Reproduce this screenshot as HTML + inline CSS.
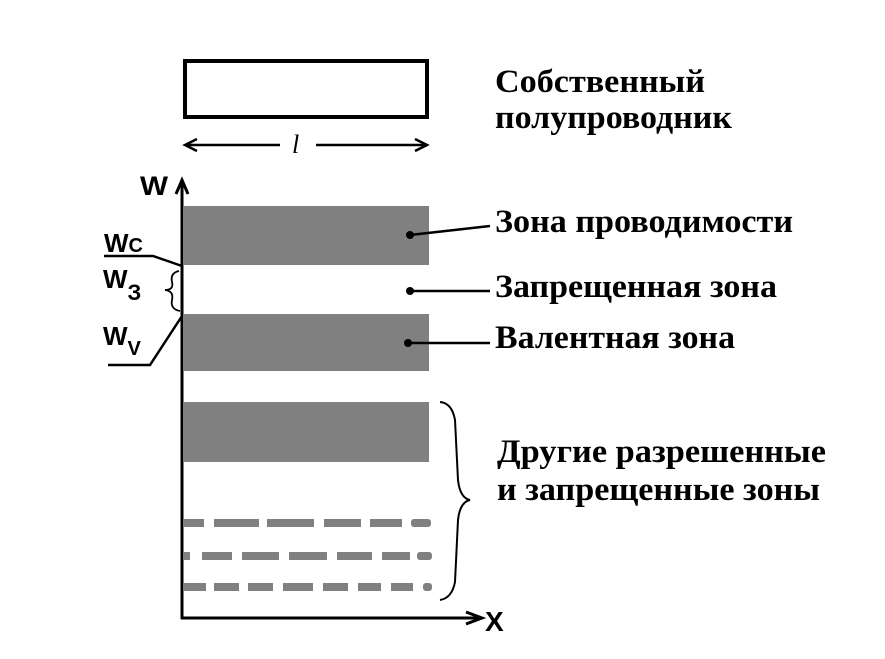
<!DOCTYPE html>
<html><head><meta charset="utf-8"><style>
body{margin:0;background:#fff;}
svg{display:block}
.s{font-family:"Liberation Serif",serif;font-weight:bold;font-size:33px;fill:#000}
.w{font-family:"Liberation Sans",sans-serif;font-weight:bold;fill:#000}
</style></head><body>
<svg width="885" height="659" viewBox="0 0 885 659" xmlns="http://www.w3.org/2000/svg">
<rect x="185" y="61" width="242" height="56" fill="none" stroke="#000" stroke-width="4"/>
<g stroke="#000" stroke-width="2.5" fill="none">
<line x1="185" y1="145" x2="280" y2="145"/><line x1="316" y1="145" x2="427" y2="145"/>
<polyline points="197,139 185,145 197,151"/><polyline points="415,139 427,145 415,151"/>
</g>
<text x="292" y="153" font-family="Liberation Serif,serif" font-style="italic" font-size="26">l</text>
<text class="s" x="495" y="92" textLength="210" lengthAdjust="spacingAndGlyphs">Собственный</text>
<text class="s" x="495" y="128" textLength="237" lengthAdjust="spacingAndGlyphs">полупроводник</text>
<rect x="184" y="206" width="245" height="59" fill="#808080"/>
<rect x="184" y="314" width="245" height="57" fill="#808080"/>
<rect x="184" y="402" width="245" height="60" fill="#808080"/>
<g fill="#808080">
<rect x="184" y="519" width="20" height="8"/><rect x="214" y="519" width="45" height="8"/><rect x="267" y="519" width="47" height="8"/><rect x="324" y="519" width="37" height="8"/><rect x="370" y="519" width="32" height="8"/><rect x="411" y="519" width="20" height="8" rx="3"/>
<rect x="184" y="552" width="6" height="8"/><rect x="202" y="552" width="30" height="8"/><rect x="242" y="552" width="37" height="8"/><rect x="289" y="552" width="38" height="8"/><rect x="337" y="552" width="35" height="8"/><rect x="382" y="552" width="28" height="8"/><rect x="417" y="552" width="15" height="8" rx="3"/>
<rect x="184" y="583" width="22" height="8"/><rect x="214" y="583" width="25" height="8"/><rect x="248" y="583" width="25" height="8"/><rect x="283" y="583" width="30" height="8"/><rect x="323" y="583" width="25" height="8"/><rect x="358" y="583" width="23" height="8"/><rect x="391" y="583" width="22" height="8"/><rect x="423" y="583" width="9" height="8" rx="3"/>
</g>
<g stroke="#000" stroke-width="3" fill="none">
<line x1="182" y1="180" x2="182" y2="619"/><line x1="181" y1="618" x2="480" y2="618"/>
<polyline points="176,194 182,180 188,194"/><polyline points="466,612 482,618 466,624"/>
</g>
<text class="w" x="140" y="195" font-size="27" textLength="28" lengthAdjust="spacingAndGlyphs">W</text>
<text class="w" x="485" y="631" font-size="28">X</text>
<g stroke="#000" stroke-width="2.5" fill="none">
<polyline points="104,256 153,256 182,266"/>
<polyline points="108,365 150,365 182,316"/>
<path d="M179,271 Q170,273 172,282 Q174,290 165,290 Q174,291 172,300 Q170,309 180,311" stroke-width="1.8"/>
<path d="M440,402 Q452,403 455,420 L458,480 Q460,498 470,500 Q460,502 458,520 L455,582 Q452,598 440,600" stroke-width="2"/>
<line x1="410" y1="235" x2="490" y2="226"/><line x1="410" y1="291" x2="490" y2="291"/><line x1="408" y1="343" x2="490" y2="343"/>
</g>
<circle cx="410" cy="235" r="4" fill="#000"/><circle cx="410" cy="291" r="4" fill="#000"/><circle cx="408" cy="343" r="4" fill="#000"/>
<text class="w" x="104" y="252" font-size="26">W<tspan font-size="20">C</tspan></text>
<text class="w" x="103" y="288" font-size="26">W<tspan font-size="22" dy="12">З</tspan></text>
<text class="w" x="103" y="345" font-size="26">W<tspan font-size="20" dy="10">V</tspan></text>
<text class="s" x="495" y="232" textLength="298" lengthAdjust="spacingAndGlyphs">Зона проводимости</text>
<text class="s" x="495" y="297" textLength="282" lengthAdjust="spacingAndGlyphs">Запрещенная зона</text>
<text class="s" x="495" y="348" textLength="240" lengthAdjust="spacingAndGlyphs">Валентная зона</text>
<text class="s" x="497" y="462" textLength="329" lengthAdjust="spacingAndGlyphs">Другие разрешенные</text>
<text class="s" x="497" y="500" textLength="323" lengthAdjust="spacingAndGlyphs">и запрещенные зоны</text>
</svg>
</body></html>
